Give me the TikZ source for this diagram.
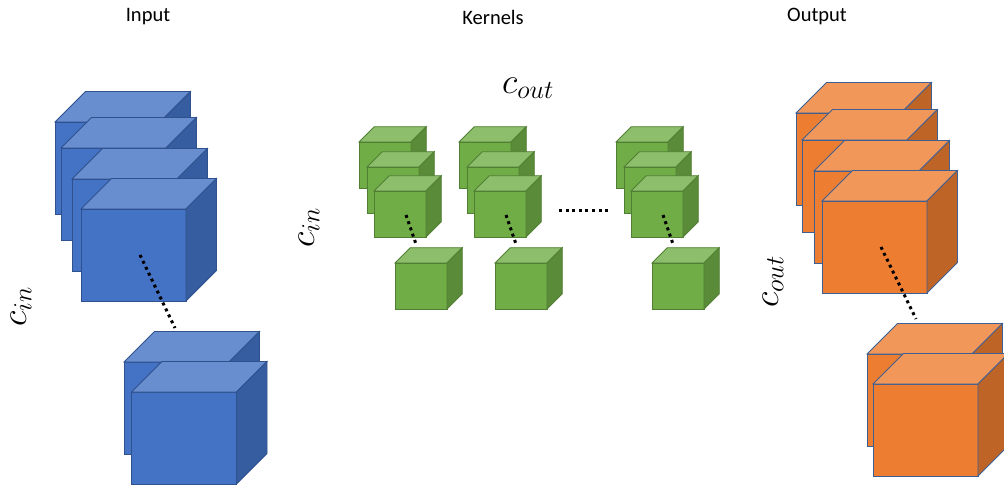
\documentclass[tikz,border=0pt]{standalone}
\usepackage{fix-cm}
\usepackage{amsmath}
\usepackage{fontspec}
\setmainfont{Carlito}
\usepackage{tikz}
\usetikzlibrary{positioning}
\DeclareMathSizes{36}{36}{26}{20}

\definecolor{BlueFront}{HTML}{4472C4}
\definecolor{BlueTop}{HTML}{698ED0}
\definecolor{BlueSide}{HTML}{365D9F}
\definecolor{BlueLine}{HTML}{2F528F}
\definecolor{GreenFront}{HTML}{70AD47}
\definecolor{GreenTop}{HTML}{8DBE6B}
\definecolor{GreenSide}{HTML}{5A8B39}
\definecolor{GreenLine}{HTML}{507E32}
\definecolor{OrangeFront}{HTML}{ED7D31}
\definecolor{OrangeTop}{HTML}{F1975A}
\definecolor{OrangeSide}{HTML}{BE6427}
\definecolor{OrangeLine}{HTML}{3D5F92}

% front top-left x, y, width, height, depth, colour
\newcommand{\drawcube}[6]{%
	\filldraw[fill=#6Front, draw=#6Line, cube edge] (#1,#2) rectangle ++(#3,#4);
	\filldraw[fill=#6Top, draw=#6Line, cube edge] (#1,#2) -- ++(#5,-#5) -- ++(#3,0) -- ++(-#5,#5) -- cycle;
	\filldraw[fill=#6Side, draw=#6Line, cube edge] (#1+#3,#2) -- ++(#5,-#5) -- ++(0,#4) -- ++(-#5,#5) -- cycle;
}

\begin{document}
\begin{tikzpicture}[
			x=1pt, y=-1pt,
			cube edge/.style={line width=0.8pt, line join=miter},
			title/.style={inner sep=0pt, font=\fontsize{20.5}{24}\selectfont},
			dimlabel/.style={inner sep=0pt, font=\fontsize{36}{42}\selectfont},
			dotline/.style={line width=3pt, dash pattern=on 3pt off 3.6pt}
		]
		\useasboundingbox (0,0) rectangle (1004,486);
		\clip (0,0) rectangle (1004,486);

		% titles
		\node[title] (input) at (148,17) {Input};
		\node[title] (kernels) at (493,17) {Kernels};
		\node[title] (output) at (817,17) {Output};

		% input stack
		\drawcube{55}{122}{105}{92}{30.5}{Blue}
		\drawcube{61}{148}{105}{92}{30.5}{Blue}
		\drawcube{72}{179}{105}{92}{30.5}{Blue}
		\drawcube{81}{209}{105}{92}{30.5}{Blue}
		\drawcube{124}{362}{105}{92}{30.5}{Blue}
		\drawcube{131.5}{392}{105}{92}{30.5}{Blue}
		\coordinate (inA) at (140,255);
		\coordinate (inB) at (175,328);
		\draw[dotline] (inA) -- (inB);
		\node[dimlabel, rotate=90] (cinL) at (21,307) {$c_{in}$};

		% kernels
		\foreach \gx/\nm in {0/a, 100/b, 257/c} {
			\drawcube{359+\gx}{142}{52}{46}{15.25}{Green}
			\drawcube{367+\gx}{167}{52}{46}{15.25}{Green}
			\drawcube{374+\gx}{191}{52}{46}{15.25}{Green}
			\drawcube{395+\gx}{263}{52}{46}{15.25}{Green}
			\coordinate (k\nm A) at (406+\gx,215);
			\coordinate (k\nm B) at (416+\gx,244);
			\draw[dotline] (k\nm A) -- (k\nm B);
		}
		\coordinate (skipA) at (559,211);
		\coordinate (skipB) at (611,211);
		\draw[dotline] (skipA) -- (skipB);
		\node[dimlabel] (coutT) at (528,88) {$c_{out}$};
		\node[dimlabel, rotate=90] (cinM) at (309,228) {$c_{in}$};

		% output stack
		\drawcube{796}{113}{105}{92}{30.5}{Orange}
		\drawcube{802}{140}{105}{92}{30.5}{Orange}
		\drawcube{814}{171}{105}{92}{30.5}{Orange}
		\drawcube{822}{201}{105}{92}{30.5}{Orange}
		\drawcube{867}{354}{105}{92}{30.5}{Orange}
		\drawcube{873}{384}{105}{92}{30.5}{Orange}
		\coordinate (outA) at (881,247);
		\coordinate (outB) at (916,319);
		\draw[dotline] (outA) -- (outB);
		\node[dimlabel, rotate=90] (coutR) at (773,282) {$c_{out}$};
	\end{tikzpicture}
\end{document}
